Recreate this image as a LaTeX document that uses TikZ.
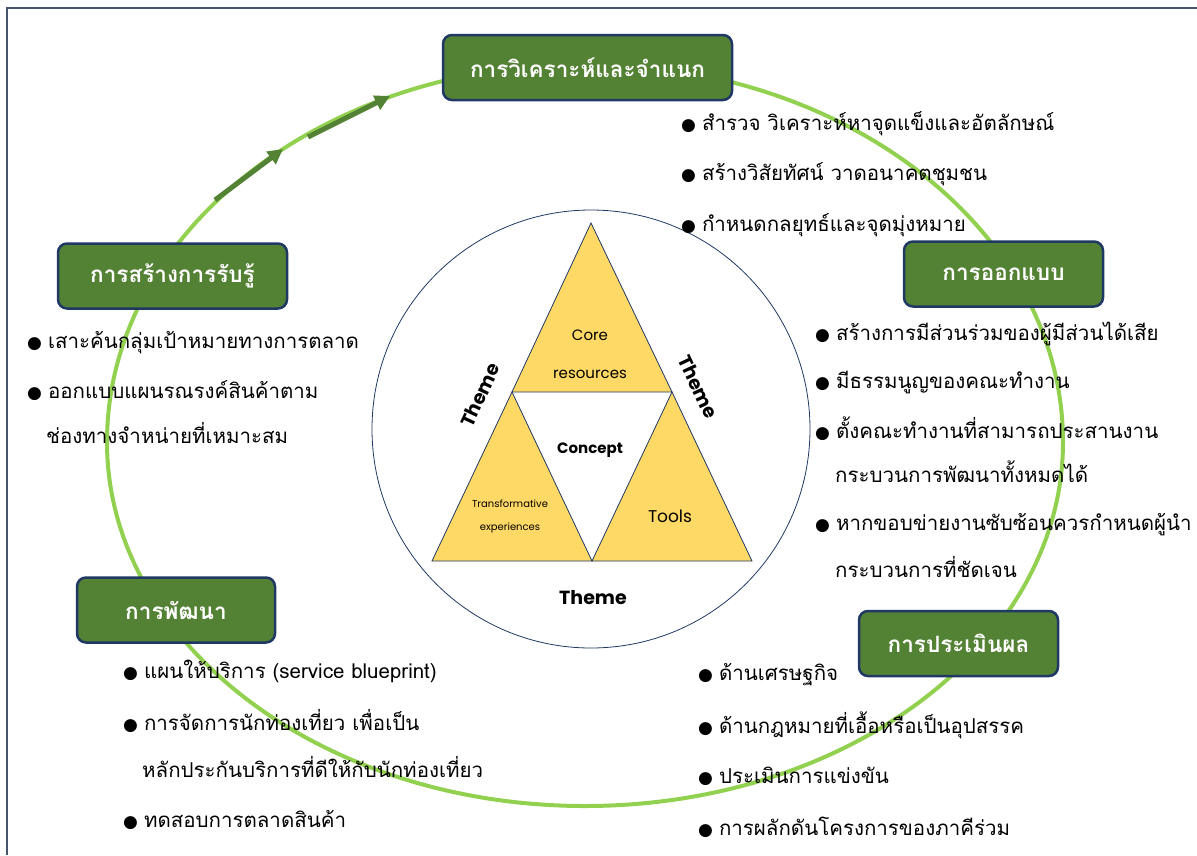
\documentclass[tikz,border=0pt]{standalone}
\usepackage{fontspec}
\newfontfamily\thaifont[Script=Thai]{Loma}
\newfontfamily\geofont{Poppins}
\newfontfamily\symfont{DejaVu Sans}
\usetikzlibrary{arrows.meta,positioning}

\definecolor{ringgreen}{HTML}{92D050}
\definecolor{boxgreen}{HTML}{548235}
\definecolor{navyline}{HTML}{1F3864}
\definecolor{triyellow}{HTML}{FFD966}
\definecolor{framegray}{HTML}{44546A}

\newcommand{\blt}{{\symfont\fontsize{17}{17}\selectfont ●}\hspace{6pt}}

\tikzset{
  stage/.style={draw=navyline, line width=2.5pt, fill=boxgreen, rounded corners=9pt,
    text=white, font=\thaifont\bfseries\fontsize{22.5}{26}\selectfont,
    minimum height=65pt, inner sep=0pt},
  item/.style={anchor=west, inner sep=0pt, text height=15.5pt, text depth=5.5pt,
    font=\thaifont\fontsize{20.5}{24}\selectfont},
  tri/.style={draw=navyline, line width=0.8pt, fill=triyellow},
  geo/.style={font=\geofont\fontsize{15}{38}\selectfont, align=center, inner sep=0pt},
  theme/.style={font=\geofont\bfseries\fontsize{19}{21}\selectfont, inner sep=0pt}
}

\begin{document}
\begin{tikzpicture}[x=1pt,y=-1pt]
\useasboundingbox (0,0) rectangle (1197,855);
% frame
\draw[framegray, line width=1.8pt] (7,855) -- (7,8) -- (1197,8);

% ring
\draw[ringgreen, line width=4pt] (107,442)
  arc[start angle=180, end angle=360, x radius=478, y radius=378]
  arc[start angle=0, end angle=180, x radius=478, y radius=364];
\draw[boxgreen, line width=5pt, -{Triangle[length=15pt,width=15pt]}] (215,200) -- (283,149);
\draw[boxgreen, line width=5pt, -{Triangle[length=15pt,width=15pt]}] (308,137) -- (390,96);

% centre
\draw[navyline, line width=0.8pt] (591,429) circle[radius=219];
\coordinate (apex) at (591,223);
\coordinate (ml) at (512,392);
\coordinate (mr) at (672,392);
\coordinate (bl) at (432,561);
\coordinate (mb) at (592,561);
\coordinate (br) at (752,561);
\draw[tri] (apex) -- (mr) -- (ml) -- cycle;
\draw[tri] (ml) -- (mb) -- (bl) -- cycle;
\draw[tri] (mr) -- (br) -- (mb) -- cycle;
\node[geo] (core) at (590,354) {Core\\resources};
\node[geo, font=\geofont\fontsize{10}{23}\selectfont] (trans) at (510,516) {Transformative\\experiences};
\node[geo, font=\geofont\fontsize{17}{20}\selectfont] (tools) at (670,516) {Tools};
\node[geo, font=\geofont\bfseries\fontsize{15}{18}\selectfont] (concept) at (590,450) {Concept};
\node[theme, rotate=65] (themel) at (480,395) {Theme};
\node[theme, rotate=-65] (themer) at (698,387) {Theme};
\node[theme] (themeb) at (593,598) {Theme};

% stages
\node[stage, minimum width=289pt] (analyse) at (587.5,67.5) {การวิเคราะห์และจำแนก};
\node[stage, minimum width=199pt] (design) at (1003.5,274) {การออกแบบ};
\node[stage, minimum width=229pt] (aware) at (172.5,276) {การสร้างการรับรู้};
\node[stage, minimum width=198pt] (develop) at (176,610) {การพัฒนา};
\node[stage, minimum width=199pt] (evaluate) at (958.5,643.5) {การประเมินผล};

% analyse
\node[item] (a1) at (681,125) {\blt สำรวจ วิเคราะห์หาจุดแข็งและอัตลักษณ์};
\node[item] (a2) at (681,175) {\blt สร้างวิสัยทัศน์ วาดอนาคตชุมชน};
\node[item] (a3) at (681,226) {\blt กำหนดกลยุทธ์และจุดมุ่งหมาย};
% design
\node[item] (d1) at (815,335) {\blt สร้างการมีส่วนร่วมของผู้มีส่วนได้เสีย};
\node[item] (d2) at (815,383) {\blt มีธรรมนูญของคณะทำงาน};
\node[item] (d3) at (815,433) {\blt ตั้งคณะทำงานที่สามารถประสานงาน};
\node[item] (d4) at (835,477) {กระบวนการพัฒนาทั้งหมดได้};
\node[item] (d5) at (815,525) {\blt หากขอบข่ายงานซับซ้อนควรกำหนดผู้นำ};
\node[item] (d6) at (835,572) {กระบวนการที่ชัดเจน};
% awareness
\node[item] (w1) at (27,343) {\blt เสาะค้นกลุ่มเป้าหมายทางการตลาด};
\node[item] (w2) at (27,393) {\blt ออกแบบแผนรณรงค์สินค้าตาม};
\node[item] (w3) at (46,438) {ช่องทางจำหน่ายที่เหมาะสม};
% development
\node[item] (v1) at (123,673) {\blt แผนให้บริการ (service blueprint)};
\node[item] (v2) at (123,725) {\blt การจัดการนักท่องเที่ยว เพื่อเป็น};
\node[item] (v3) at (142,772) {หลักประกันบริการที่ดีให้กับนักท่องเที่ยว};
\node[item] (v4) at (123,822) {\blt ทดสอบการตลาดสินค้า};
% evaluation
\node[item] (e1) at (698,675) {\blt ด้านเศรษฐกิจ};
\node[item] (e2) at (698,728) {\blt ด้านกฎหมายที่เอื้อหรือเป็นอุปสรรค};
\node[item] (e3) at (698,778) {\blt ประเมินการแข่งขัน};
\node[item] (e4) at (698,830) {\blt การผลักดันโครงการของภาคีร่วม};
\end{tikzpicture}
\end{document}
